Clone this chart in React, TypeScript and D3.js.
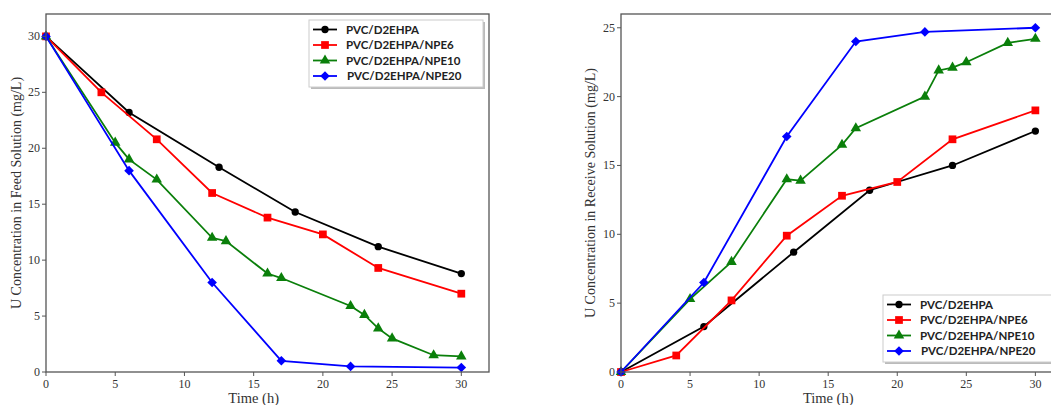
import * as d3 from 'd3'

const seriesNames = ['PVC/D2EHPA', 'PVC/D2EHPA/NPE6', 'PVC/D2EHPA/NPE10', 'PVC/D2EHPA/NPE20']
const colors = ['#000000', '#ff0000', '#0a7f0a', '#0000ff']
const shapes = ['circle', 'square', 'triangle', 'diamond']

// feed solution (left)
const feedBlack = [[0, 30], [6, 23.2], [12.5, 18.3], [18, 14.3], [24, 11.2], [30, 8.8]]
const feedRed = [[0, 30], [4, 25], [8, 20.8], [12, 16], [16, 13.8], [20, 12.3], [24, 9.3], [30, 7]]
const feedGreen = [[0, 30], [5, 20.5], [6, 19], [8, 17.2], [12, 12], [13, 11.7], [16, 8.8], [17, 8.4], [22, 5.9], [23, 5.1], [24, 3.9], [25, 3], [28, 1.5], [30, 1.4]]
const feedBlue = [[0, 30], [6, 18], [12, 8], [17, 1], [22, 0.5], [30, 0.4]]

// receive solution (right)
const recvBlack = [[0, 0], [6, 3.3], [12.5, 8.7], [18, 13.2], [24, 15], [30, 17.5]]
const recvRed = [[0, 0], [4, 1.2], [8, 5.2], [12, 9.9], [16, 12.8], [20, 13.8], [24, 16.9], [30, 19]]
const recvGreen = [[0, 0], [5, 5.3], [8, 8], [12, 14], [13, 13.9], [16, 16.5], [17, 17.7], [22, 20], [23, 21.9], [24, 22.1], [25, 22.5], [28, 23.9], [30, 24.2]]
const recvBlue = [[0, 0], [6, 6.5], [12, 17.1], [17, 24], [22, 24.7], [30, 25]]

const xTicks = [0, 5, 10, 15, 20, 25, 30]
const feedYTicks = [0, 5, 10, 15, 20, 25, 30]
const recvYTicks = [0, 5, 10, 15, 20, 25]

const serif = '"Liberation Serif", "Times New Roman", serif'
const sans = 'Lato, "Open Sans", sans-serif'

function markerPath(shape: string) {
  if (shape === 'circle') return d3.symbol(d3.symbolCircle, 42)()
  if (shape === 'square') return d3.symbol(d3.symbolSquare, 60)()
  if (shape === 'triangle') return d3.symbol(d3.symbolTriangle, 48)()
  return d3.symbol(d3.symbolSquare, 46)()
}

function Marker({ shape, x, y, color }: any) {
  const rot = shape === 'diamond' ? 45 : 0
  return <path d={markerPath(shape) || ''} transform={`translate(${x},${y}) rotate(${rot})`} fill={color} />
}

function Panel({ left, right, top, bottom, xMax, yMax, yTicks, series, yLabel, labelX, legend }: any) {
  const x = d3.scaleLinear().domain([0, xMax]).range([left, right])
  const y = d3.scaleLinear().domain([0, yMax]).range([bottom, top])
  const line = d3.line<number[]>().x(d => x(d[0])).y(d => y(d[1]))
  return (
    <g>
      {series.map((s: number[][], i: number) => (
        <g key={i}>
          <path d={line(s) || ''} fill="none" stroke={colors[i]} strokeWidth={1.8} />
          {s.map((p, j) => <Marker key={j} shape={shapes[i]} x={x(p[0])} y={y(p[1])} color={colors[i]} />)}
        </g>
      ))}
      <rect x={left} y={top} width={right - left} height={bottom - top} fill="none" stroke="#555" strokeWidth={1.3} />
      {xTicks.map(t => (
        <g key={t}>
          <line x1={x(t)} x2={x(t)} y1={bottom} y2={bottom + 4} stroke="#555" />
          <text x={x(t)} y={bottom + 16} textAnchor="middle" fontFamily={serif} fontSize={12} fill="#333">{t}</text>
        </g>
      ))}
      {yTicks.map((t: number) => (
        <g key={t}>
          <line x1={left - 4} x2={left} y1={y(t)} y2={y(t)} stroke="#555" />
          <text x={left - 6} y={y(t) + 4} textAnchor="end" fontFamily={serif} fontSize={12} fill="#333">{t}</text>
        </g>
      ))}
      <text x={x(15)} y={403} textAnchor="middle" fontFamily={serif} fontSize={14.5} fill="#333">Time (h)</text>
      <text transform={`translate(${labelX},${(top + bottom) / 2}) rotate(-90)`} textAnchor="middle" fontFamily={serif} fontSize={14} fill="#333">{yLabel}</text>
      <g>
        <rect x={legend.x + 2} y={legend.y + 2} width={legend.w} height={legend.h} fill="#bbb" />
        <rect x={legend.x} y={legend.y} width={legend.w} height={legend.h} fill="#fff" stroke="#ccc" strokeWidth={1} />
        {seriesNames.map((n, i) => {
          const ry = legend.y + 9.5 + i * 15.5
          return (
            <g key={n}>
              <line x1={legend.x + 4} x2={legend.x + 28} y1={ry} y2={ry} stroke={colors[i]} strokeWidth={1.8} />
              <Marker shape={shapes[i]} x={legend.x + 16} y={ry} color={colors[i]} />
              <text x={legend.x + 37 + (i === 3 ? 1 : 0)} y={ry + 4} fontFamily={sans} fontWeight={700} fontSize={11.5} fill="#222">{n}</text>
            </g>
          )
        })}
      </g>
    </g>
  )
}

export default function App() {
  return (
    <div style={{ position: 'absolute', left: 0, top: 0 }}>
      <svg width={1051} height={405} style={{ display: 'block', background: '#fff' }}>
        <Panel left={46} right={489} top={14} bottom={372} xMax={32} yMax={32} yTicks={feedYTicks}
          series={[feedBlack, feedRed, feedGreen, feedBlue]}
          yLabel="U Concentration in Feed Solution (mg/L)" labelX={21}
          legend={{ x: 309, y: 20, w: 174, h: 67 }} />
        <Panel left={621} right={1063} top={14} bottom={372} xMax={32} yMax={26} yTicks={recvYTicks}
          series={[recvBlack, recvRed, recvGreen, recvBlue]}
          yLabel="U Concentration in Receive Solution (mg/L)" labelX={595}
          legend={{ x: 883, y: 295, w: 180, h: 67 }} />
      </svg>
    </div>
  )
}
